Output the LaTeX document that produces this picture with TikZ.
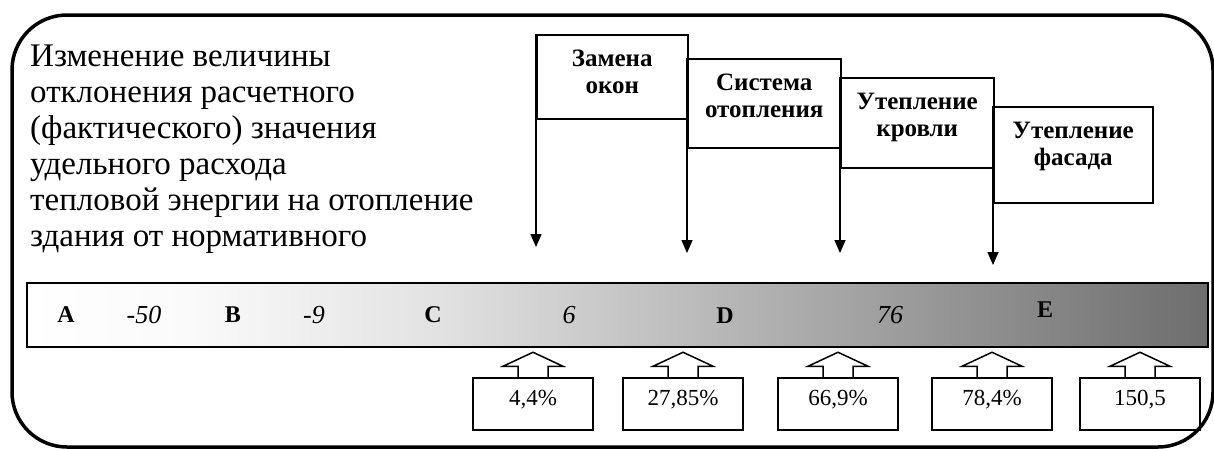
\documentclass[tikz,border=0pt]{standalone}
\usepackage{fontspec}
\setmainfont{Liberation Serif}
\usepackage{tikz}
\usetikzlibrary{positioning, arrows.meta}

\pgfdeclarehorizontalshading{barshade}{100bp}{color(0bp)=(white); color(25bp)=(white); color(32bp)=(black!2); color(42bp)=(black!11); color(75bp)=(black!57); color(100bp)=(black!57)}

\tikzset{
  frame/.style={line width=3.5pt, rounded corners=55pt},
  stagebox/.style={draw, line width=1.5pt, anchor=north west, inner sep=0pt},
  stagetext/.style={font=\bfseries\fontsize{25}{27}\selectfont, align=center, inner sep=0pt},
  drop/.style={line width=1.5pt, -{Triangle[length=13pt, width=11pt]}},
  scalebar/.style={draw, line width=2pt, shading=barshade, minimum width=1181pt, minimum height=64pt, inner sep=0pt},
  grade/.style={font=\bfseries\fontsize{24}{26}\selectfont},
  limit/.style={font=\itshape\fontsize{26}{28}\selectfont},
  valbox/.style={draw, line width=1.5pt, minimum width=120pt, minimum height=52pt, inner sep=0pt, text height=16pt, text depth=13pt, font=\fontsize{23}{26}\selectfont},
  hollow/.style={line width=1.5pt}
}

\newcommand\hollowup[1]{\draw[hollow] ([xshift=-15pt]#1.north) -- ++(0,-11) -- ++(-15,0) -- ++(30,-14) -- ++(30,14) -- ++(-15,0) -- ++(0,11);}

\begin{document}
\begin{tikzpicture}[x=1pt, y=-1pt]
    \useasboundingbox (0,0) rectangle (1214,448);
    \draw[frame] (12,15) rectangle (1213,447);

    % caption
    \node[anchor=north west, align=left, inner sep=0pt, font=\fontsize{33}{36}\selectfont] (intro) at (30,45) {Изменение величины\\отклонения расчетного\\(фактического) значения\\удельного расхода\\тепловой энергии на отопление\\здания от нормативного};

    % measures
    \node[stagebox, minimum width=151pt, minimum height=84pt] (zam) at (536,34) {};
    \node[stagebox, minimum width=153pt, minimum height=89pt] (sys) at (687,58) {};
    \node[stagebox, minimum width=153pt, minimum height=90pt] (roof) at (840,77) {};
    \node[stagebox, minimum width=159pt, minimum height=96pt] (fas) at (993,106) {};
    \node[stagetext, below=16pt of zam.north] (zamt) {Замена\\окон};
    \node[stagetext, below=16pt of sys.north] (syst) {Система\\отопления};
    \node[stagetext, below=16pt of roof.north] (rooft) {Утепление\\кровли};
    \node[stagetext, below=16pt of fas.north] (fast) {Утепление\\фасада};

    \coordinate (d1) at (536,247);
    \coordinate (d2) at (687,253);
    \coordinate (d3) at (840,253);
    \coordinate (d4) at (993,265);
    \draw[drop] (zam.north west) -- (d1);
    \draw[drop] (sys.north west) -- (d2);
    \draw[drop] (roof.north west) -- (d3);
    \draw[drop] (fas.north west) -- (d4);

    % scale
    \node[scalebar] (scale) at (617.5,315) {};
    \node[grade] (ga) at (66,315) {A};
    \node[limit] (l1) at (144,315) {-50};
    \node[grade] (gb) at (233,315) {B};
    \node[limit] (l2) at (314,315) {-9};
    \node[grade] (gc) at (433,315) {C};
    \node[limit] (l3) at (569,315) {6};
    \node[grade] (gd) at (725,316) {D};
    \node[limit] (l4) at (890,315) {76};
    \node[grade] (ge) at (1045,310) {E};

    % values
    \node[valbox] (v1) at (533,404) {4,4\%};
    \node[valbox] (v2) at (683,404) {27,85\%};
    \node[valbox] (v3) at (838,404) {66,9\%};
    \node[valbox] (v4) at (992,404) {78,4\%};
    \node[valbox] (v5) at (1140,404) {150,5};
    \hollowup{v1}
    \hollowup{v2}
    \hollowup{v3}
    \hollowup{v4}
    \hollowup{v5}
\end{tikzpicture}
\end{document}
